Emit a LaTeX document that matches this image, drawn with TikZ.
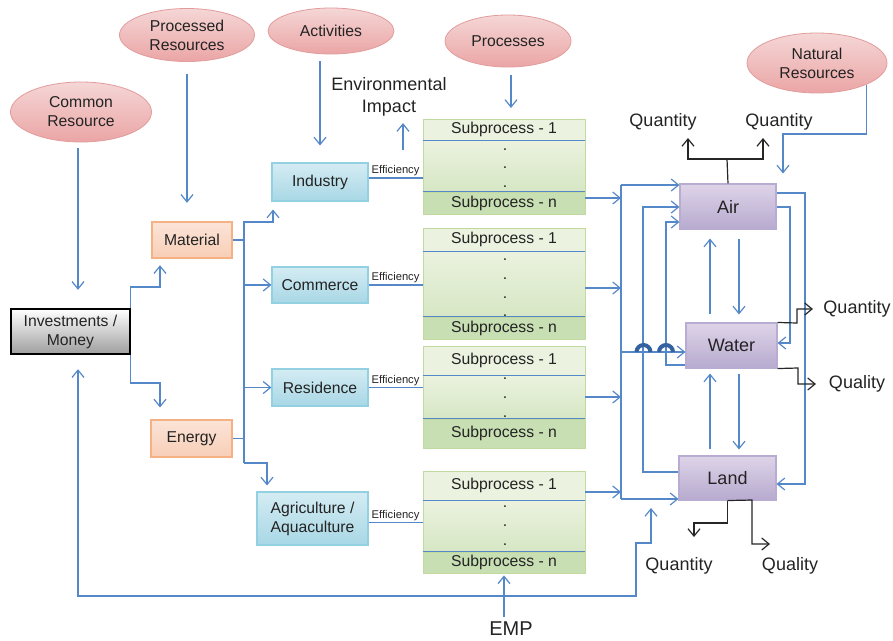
\documentclass[tikz,border=0pt]{standalone}
\usepackage{fontspec}
\setmainfont{Liberation Sans}
\usetikzlibrary{shapes.geometric,arrows.meta}

\definecolor{linkblue}{RGB}{84,136,200}
\definecolor{hopblue}{RGB}{52,98,160}
\definecolor{inktext}{RGB}{35,35,35}
\definecolor{pinktop}{RGB}{245,214,214}
\definecolor{pinkbot}{RGB}{235,165,165}
\definecolor{pinkline}{RGB}{226,156,156}
\definecolor{peachtop}{RGB}{251,228,216}
\definecolor{peachbot}{RGB}{248,206,182}
\definecolor{peachline}{RGB}{245,176,132}
\definecolor{cyantop}{RGB}{212,236,243}
\definecolor{cyanbot}{RGB}{168,215,229}
\definecolor{cyanline}{RGB}{147,209,226}
\definecolor{lilactop}{RGB}{222,212,232}
\definecolor{lilacbot}{RGB}{183,170,207}
\definecolor{lilacline}{RGB}{185,172,211}
\definecolor{greentop}{RGB}{235,242,223}
\definecolor{greenmid}{RGB}{214,231,196}
\definecolor{greenbot}{RGB}{199,223,179}
\definecolor{greenline}{RGB}{194,217,159}

\begin{document}
\begin{tikzpicture}[x=0.75pt,y=-0.75pt,>={Straight Barb[length=5.5pt,width=9pt]},
    font=\fontsize{11.8}{14.2}\selectfont, text=inktext]

    \useasboundingbox (0,0) rectangle (893,640);

    % Define node styles
    \tikzstyle{source} = [ellipse, draw=pinkline, top color=pinktop, bottom color=pinkbot, inner sep=0pt, align=center, line width=0.6pt]
    \tikzstyle{money} = [rectangle, draw=black, top color=white, bottom color=black!38, inner sep=0pt, align=center, line width=0.8pt]
    \tikzstyle{input} = [rectangle, draw=peachline, top color=peachtop, bottom color=peachbot, inner sep=0pt, line width=0.8pt]
    \tikzstyle{sector} = [rectangle, draw=cyanline, top color=cyantop, bottom color=cyanbot, inner sep=0pt, align=center, line width=0.8pt]
    \tikzstyle{medium} = [rectangle, draw=lilacline, top color=lilactop, bottom color=lilacbot, inner sep=0pt, line width=0.8pt, font=\fontsize{13.5}{16}\selectfont]
    \tikzstyle{subrow} = [rectangle, draw=greenline, minimum width=121.5pt, inner sep=0pt, line width=0.6pt]
    \tikzstyle{note} = [align=center, font=\fontsize{13.5}{16.5}\selectfont]
    \tikzstyle{eff} = [inner sep=1pt, font=\fontsize{8.4}{10}\selectfont]
    \tikzstyle{flow} = [draw=linkblue, line width=0.9pt]
    \tikzstyle{yield} = [draw=black!85, line width=0.9pt]
    \tikzstyle{hop} = [draw=hopblue, line width=3pt]

    % Resources and drivers
    \node[source, minimum width=105.75pt, minimum height=45pt] (common) at (81,112) {Common\\Resource};
    \node[source, minimum width=101.25pt, minimum height=39.75pt] (processed) at (187,35) {Processed\\Resources};
    \node[source, minimum width=94.5pt, minimum height=34.5pt] (activities) at (331,31) {Activities};
    \node[source, minimum width=94.5pt, minimum height=39pt] (processes) at (508,41) {Processes};
    \node[source, minimum width=105pt, minimum height=45pt] (natural) at (817,63) {Natural\\Resources};

    % Money, inputs and activities
    \node[money, minimum width=89.25pt, minimum height=33.75pt] (invest) at (70.5,331.5) {Investments /\\Money};
    \node[input, minimum width=60pt, minimum height=27pt] (material) at (192,240) {Material};
    \node[input, minimum width=60.75pt, minimum height=27.75pt] (energy) at (191.5,438.5) {Energy};
    \node[sector, minimum width=72pt, minimum height=28.5pt] (industry) at (320,182) {Industry};
    \node[sector, minimum width=72pt, minimum height=27pt] (commerce) at (320,285) {Commerce};
    \node[sector, minimum width=72pt, minimum height=27.75pt] (residence) at (320,387.5) {Residence};
    \node[sector, minimum width=83.25pt, minimum height=39.75pt] (agri) at (312.5,518.5) {Agriculture /\\Aquaculture};

    % Subprocess blocks
    \foreach \n/\ya/\yb/\yc/\yd/\dl in {1/119/140/192/214/{150,168,187}, 2/228/251/317/339/{260,279,298,316},
                                         3/346/375/419/448/{379,398,417}, 4/471/500/552/573/{507,526,545}} {
        \node[subrow, top color=greentop, bottom color=greentop, minimum height={(\yb-\ya)*0.75pt}] (sub\n-top) at (504,{(\ya+\yb)/2}) {Subprocess - 1};
        \node[subrow, top color=greentop, bottom color=greenmid, minimum height={(\yc-\yb)*0.75pt}] (sub\n-mid) at (504,{(\yb+\yc)/2}) {};
        \node[subrow, top color=greenbot, bottom color=greenbot, minimum height={(\yd-\yc)*0.75pt}] (sub\n-bot) at (504,{(\yc+\yd)/2}) {Subprocess - n};
        \draw[flow] (sub\n-top.south west) -- (sub\n-top.south east);
        \draw[flow] (sub\n-bot.north west) -- (sub\n-bot.north east);
        \foreach \dy in \dl
            \node[inner sep=0pt] (dot\n-\dy) at (505,\dy) {.};
    }

    % Environment compartments
    \node[medium, minimum width=72pt, minimum height=33.75pt] (air) at (728,206.5) {Air};
    \node[medium, minimum width=68.25pt, minimum height=33.75pt] (water) at (731.5,345.5) {Water};
    \node[medium, minimum width=72.75pt, minimum height=33pt] (land) at (727.5,478) {Land};

    % Free labels
    \node[note] (envimp) at (389,97) {Environmental\\Impact};
    \node[note] (qty-air1) at (663,122) {Quantity};
    \node[note] (qty-air2) at (779,122) {Quantity};
    \node[note] (qty-water) at (857,309) {Quantity};
    \node[note] (qual-water) at (857,384) {Quality};
    \node[note] (qty-land) at (679,566) {Quantity};
    \node[note] (qual-land) at (790,566) {Quality};
    \node[note, font=\fontsize{15}{18}\selectfont] (emp) at (511,629) {EMP};

    % Helper points
    \coordinate (bus-top) at (244,222);
    \coordinate (bus-bot) at (244,463);
    \coordinate (trunk-top) at (621,185);
    \coordinate (trunk-mid) at (621,352);
    \coordinate (trunk-bot) at (621,499);
    \coordinate (ei-foot) at (403,150);
    \coordinate (fb-end) at (651,508);
    \coordinate (air-split) at (727,159);
    \coordinate (qa1-tip) at (688,138);
    \coordinate (qa2-tip) at (763,138);
    \coordinate (qw-tip) at (813,309);
    \coordinate (lw-tip) at (816,384);
    \coordinate (ql-tip) at (694,537);
    \coordinate (ll-tip) at (770,544);

    % Arrows from the resource ellipses
    \draw[flow,->,shorten <=4.5pt,shorten >=14pt] (common.south -| 78,0) -- (invest.north -| 78,0);
    \draw[flow,->,shorten <=9pt,shorten >=14pt] (processed.south) -- (material.north -| processed.south);
    \draw[flow,->,shorten <=5pt,shorten >=12.75pt] (activities.south -| industry.north) -- (industry.north);
    \draw[flow,->,shorten <=6pt,shorten >=8pt] (processes.south -| 511,0) -- (sub1-top.north -| 511,0);
    \draw[flow,->,shorten >=7.5pt] (natural.south east) |- (783,134) -- (air.north -| 783,0);
    \draw[flow,->,shorten >=1.5pt] (ei-foot) -- (envimp.south -| ei-foot);

    % Money to inputs
    \draw[flow,->,shorten >=5pt] (invest.north east) |- (160,287) -- (material.south -| 160,0);
    \draw[flow,->,shorten >=9pt] (invest.south east) |- (160,383) -- (energy.north -| 160,0);

    % Inputs to activities
    \draw[flow] (material.east) -- (material.east -| bus-top);
    \draw[flow] (energy.east) -- (energy.east -| bus-top);
    \draw[flow,->,shorten >=6pt] (bus-bot) -- (bus-top) -| (industry.south -| 273,0);
    \draw[flow,->,shorten >=4.5pt] (bus-bot) -| (agri.north -| 267,0);
    \draw[flow,->] (commerce.west -| bus-top) -- (commerce.west);
    \draw[flow,->] (residence.west -| bus-top) -- (residence.west);

    % Activities to subprocesses
    \draw[flow] ([yshift=3pt]industry.east) -- ([yshift=3pt]industry.east -| sub1-mid.west) node[midway, above, eff] (eff1) {Efficiency};
    \draw[flow] (commerce.east) -- (commerce.east -| sub2-mid.west) node[midway, above, eff] (eff2) {Efficiency};
    \draw[flow] (residence.east) -- (residence.east -| sub3-mid.west) node[midway, above, eff] (eff3) {Efficiency};
    \draw[flow] ([yshift=-3pt]agri.east) -- ([yshift=-3pt]agri.east -| sub4-mid.west) node[midway, above, eff] (eff4) {Efficiency};

    % Subprocesses to the environment
    \foreach \n/\yy in {1/198, 2/288, 3/397, 4/492}
        \draw[flow,->] (sub\n-mid.east |- 0,\yy) -- (trunk-top |- 0,\yy);
    \draw[flow] (trunk-top) -- (trunk-bot);
    \draw[flow,->] (trunk-top) -- (air.west |- trunk-top);
    \draw[flow,->] (trunk-bot) -- (land.west |- trunk-bot);
    \draw[flow,->] (trunk-mid) -- (water.west |- trunk-mid);

    % Exchanges between compartments
    \draw[flow,->] (land.west |- 0,472) -- (643,472) -- (643,207) -- (air.west |- 0,207);
    \draw[flow,->] (water.west |- 0,365) -- (666,365) -- (666,222) -- (air.west |- 0,222);
    \draw[flow,->] (air.east |- 0,193) -- (805,193) -- (805,484) -- (land.east |- 0,484);
    \draw[flow,->] (air.east |- 0,207) -- (790,207) -- (790,343) -- (water.east |- 0,343);
    \draw[flow,->,shorten <=6pt,shorten >=6.75pt] (water.north -| 710,0) -- (air.south -| 710,0);
    \draw[flow,->,shorten <=6.75pt,shorten >=6pt] (air.south -| 739,0) -- (water.north -| 739,0);
    \draw[flow,->,shorten <=4.5pt,shorten >=3.75pt] (land.north -| 710,0) -- (water.south -| 710,0);
    \draw[flow,->,shorten <=3.75pt,shorten >=4.5pt] (water.south -| 739,0) -- (land.north -| 739,0);
    \foreach \hx in {643.5,666}
        \draw[hop] (\hx-7,352) arc[start angle=180, end angle=360, radius=7];

    % Outputs
    \draw[yield] (air.north) -- (air-split);
    \draw[yield,->] (air-split) -| (qa1-tip);
    \draw[yield,->] (air-split) -| (qa2-tip);
    \draw[yield,->] (water.north east) -- (797,323) |- (qw-tip);
    \draw[yield,->] (water.south east) -- (798,368) |- (lw-tip);
    \draw[yield,->] (land.south) |- (694,523) -- (ql-tip);
    \draw[yield,->] (land.south) -- (752,500) |- (ll-tip);

    % Feedback and EMP
    \draw[flow,<->,shorten <=11pt] (invest.south -| 78,0) -- (78,596) -| (636,543) -| (fb-end);
    \draw[flow,->,shorten >=1.5pt] (emp.north -| sub4-bot.south) -- (sub4-bot.south);

\end{tikzpicture}
\end{document}
